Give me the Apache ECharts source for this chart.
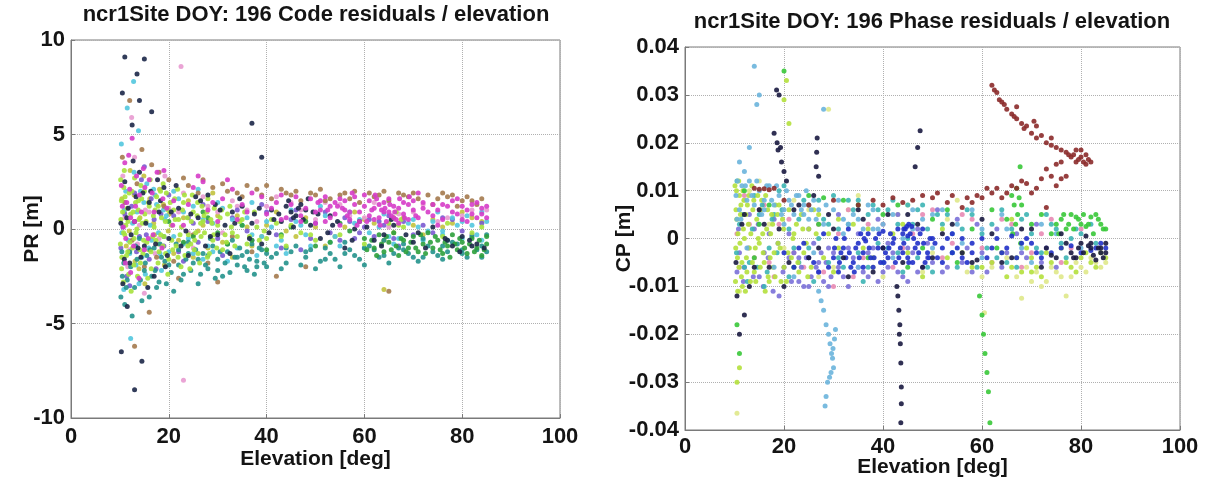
<!DOCTYPE html>
<html>
<head>
<meta charset="utf-8">
<script src="https://cdn.jsdelivr.net/npm/echarts@6/dist/echarts.min.js"></script>
<style>html,body{margin:0;padding:0;background:#fff}#c{width:1207px;height:483px}</style>
</head>
<body>
<div id="c"></div>
<script>
// ---- Tick labels / titles ----
const leftTitle = 'ncr1Site DOY: 196 Code residuals / elevation';
const rightTitle = 'ncr1Site DOY: 196 Phase residuals / elevation';
const xTicks = [0, 20, 40, 60, 80, 100];
const prTicks = [-10, -5, 0, 5, 10];
const cpTicks = [-0.04, -0.03, -0.02, -0.01, 0, 0.01, 0.02, 0.03, 0.04];

// ---- Code residuals (PR, m) : flat [elev, value, ...] per satellite colour ----
const prMagenta = [10.5,1.2,11,3.5,11.2,-0.5,12,2.1,12.5,4.8,13,0.4,14,1.8,15,-1.1,16,2.6,17,0.9,19,3.1,21,1.5,23,0.2,25,2.2,28,1.0,31,1.6,34,0.5,37,1.9,40,0.8,42,1.4,44,0.6,46,1.7,48,1.1,50,0.9,51,1.5,52,0.4,53,1.2,54,0.8,55,1.6,56,1.0,57,0.5,58,1.3,59,0.9,60,1.8,61,0.7,62,1.1,63,0.6,64,1.4,65,0.9,66,1.2,67,0.3,68,0.8,70,1.5,72,1.1,74,0.7,76,1.3,78,0.9,80,1.2,82,0.8,84,1.1,85,0.6,83,1.4,81,0.4,79,1.6,75,0.2,71,1.9,69,1.3,58.5,0.2,62.5,1.6,64.5,0.4,55.5,1.1,63.5,1.0,65.5,0.7,66.5,0.5];
const prMagentaB = [41,1.1,43,0.5,45,1.3,47,0.7,49,1.6,50,0.3,51,1.0,52,1.7,53,0.6,54,1.4,55,0.2,56,1.5,57,0.9,58,1.7,59,0.4,60,1.2,61,1.5,62,0.5,63,1.3,64,0.9,65,1.6,66,0.6,67,1.1,68,1.4,69,0.5,70,1.0,71,0.6,72,1.4,73,0.9,74,1.3,75,1.0,76,0.5,77,1.2,78,1.5,79,0.8,80,0.5,81,1.0,82,1.3,83,0.6,84,0.8,85,1.2,12.2,-2.3,13.2,1.2,14.8,3.2,16.8,-0.3,18.8,1.6,20.8,0.2,24,1.3,27,2.5,30,0.4,33,2.1,36,0.9];
const prMagentaC = [10.3,2.3,10.7,0.1,11.1,-1.8,11.4,1.4,11.8,3.9,12.2,0.6,12.8,-0.9,13.4,2.8,13.9,-2.6,14.4,0.9,15.1,2.2,15.8,-0.5,16.6,1.9,17.6,3.0,18.6,-1.0,19.6,1.1,26,2.8,29,1.4,32,2.6,35,1.3,39,1.7,43,1.8,47,0.4,60.5,0.4,61.5,1.0,62.2,1.8,63.2,0.2,64.2,1.1,65.2,1.3,66.2,0.9,67.2,1.6,68.2,0.6,69.2,1.7,70.5,0.7,56.5,0.7,57.5,1.9,54.5,1.2,52.5,1.0,50.5,1.4];
const prYellowGreen = [10.2,0.5,10.4,-1.5,10.8,2.2,11,-0.3,11.5,1.1,11.8,-2.4,12.2,0.8,12.6,-1.0,13,2.7,13.3,-0.2,13.8,1.5,14.2,-1.8,14.6,0.3,15,2.0,15.5,-0.7,16,1.2,16.4,-2.1,17,0.1,17.5,1.7,18,-1.2,18.5,0.6,19,-0.4,19.5,1.9,20,-1.6,20.5,0.2,21,1.0,21.5,-0.9,22,0.5,22.5,-2.0,23,1.4,24,-0.3,25,0.9,26,-1.3,27,0.4,28,1.6,29,-0.6,30,0.2,31,-1.1,32,0.8,33,-0.2,35,0.5,36,-0.8,38,0.1,40,-0.5,42,0.3,44,-0.9,47,-0.2,50,-0.6,55,-0.3,60,-0.8,66,0.6,67,0.2,76,-0.4,77,0.3,82,-0.2,84,0.1,25.5,-0.2,26.5,0.3,24.5,-0.8];
const prYellowGreenB = [10.1,-0.8,10.3,1.5,10.7,-2.8,10.9,3.1,11.2,0.2,11.6,-1.2,11.9,1.9,12.3,-3.3,12.7,0.9,12.9,-0.5,13.2,1.4,13.6,-2.5,13.9,0.5,14.3,2.3,14.7,-1.3,15.1,0.8,15.7,-2.6,16.2,2.6,16.7,-0.4,17.2,1.0,17.8,-1.8,18.3,2.0,18.8,-0.9,19.3,0.4,19.8,-2.4,20.3,1.4,20.8,-1.1,21.3,0.5,21.8,2.1,22.3,-0.3,22.8,1.0,23.3,-1.4,23.8,0.6,24.3,-2.1,24.8,1.8,25.3,-0.6,25.8,0.7,26.3,-1.8,26.8,1.2,27.3,-0.2,27.8,0.9,28.3,-1.3,28.8,0.3,29.3,1.1,29.8,-1.0,30.5,0.6,31.5,-0.3,32.5,1.2,33.5,-0.9,34.5,0.4,36.5,-0.4,37.5,0.9,39.5,-0.1,41,0.5,43,-0.4,65,0.3,66.5,0.9,67.5,0.5,68,0.1];
const prYellowGreenC = [10.15,2.6,10.35,-2.1,10.55,0.9,10.75,-0.2,11.05,1.7,11.35,-1.4,11.65,0.4,12.05,-0.7,12.45,2.0,12.85,-1.9,13.45,0.0,13.75,1.0,14.05,-1.1,14.45,1.6,14.85,-0.6,15.35,0.4,15.85,1.4,16.35,-1.2,16.85,0.7,17.35,-0.6,17.85,1.2,18.35,-0.3,18.85,2.4,19.35,-1.3,19.85,1.0,20.6,-0.6,21.2,1.6,21.9,-1.5,22.6,0.1,23.2,1.8,23.9,-0.9,24.6,0.4,25.2,-1.1,25.9,1.4,26.6,-0.4,27.2,0.7,27.9,-1.5,28.6,0.5,29.2,-0.3,30.8,1.0,31.8,-0.7,32.8,0.1,34,-0.4,35.5,0.9,38.5,-0.6,45,0.2,49,-0.3];
const prNavy = [10.5,7.2,11,9.1,12.5,5.5,13.5,8.2,14,6.8,15,9.0,16.5,6.2,10.3,-6.5,11.5,-4.1,13,-8.5,14.5,-7.0,11,2.5,12,-1.8,13,0.4,14,3.0,15,-0.9,16,1.4,17,-2.5,18,0.9,19,2.2,20,-0.5,22,1.1,24,-1.4,26,0.6,28,1.8,30,-0.3,33,0.9,35,1.2,37,0.3,39,-0.8,41,1.0,43,0.4,45,0.9,47,1.3,49,0.2,51,-0.5,53,0.7,56,-1.0,59,0.4,62,-0.6,66,0.2,70,-0.7,74,0.1,78,-0.9,80,-0.4,83,-0.8,37,5.6,39,3.8,46,0.7,48,1.0,44,1.2];
const prNavyB = [10.2,0.3,10.9,-1.6,11.7,1.1,12.7,3.6,13.7,-1.0,14.7,1.9,15.7,-3.1,17.7,2.6,19.7,-1.4,21.5,2.3,23.5,-0.1,25.5,1.7,27.5,-0.9,29.5,1.3,31.5,0.2,32.5,-1.3,34.5,1.6,36.5,-0.5,38.5,1.1,40.5,-0.2,42.5,0.8,44.5,1.5,45.5,0.1,46.5,1.1,47.5,0.5,48.5,1.6,50.5,0.8,52.5,-0.2,54.5,0.4,57.5,-0.6,60.5,0.1,63.5,-0.9,65.5,0.5,68.5,-0.3,72.5,-1.0,76.5,-0.5,79.5,-1.2,81.5,-0.6,84.5,-1.0];
const prNavyC = [10.6,-2.9,11.4,0.6,12.3,-0.3,13.3,1.7,14.3,-1.5,15.3,0.3,16.3,2.0,17.3,-0.8,18.3,1.5,19.3,-2.0,20.5,0.9,22.5,-0.9,24.5,0.8,26.5,1.5,28.5,-0.4,30.5,1.0,33.5,0.3,37.5,0.8,41.5,0.5,45.5,0.6,49.5,0.9,53.5,0.2,58,0.0,64,-0.3,71,-0.2,77,-0.6,82,-0.9];
const prTeal = [10.5,-2.5,11,-4.0,12,-1.2,13,-3.1,14,-0.5,15,-2.2,16,-3.6,17,-1.0,18,-2.8,19,-0.4,20,-1.9,21,-3.3,22,-1.1,23,-2.4,24,-0.7,25,-1.8,26,-2.9,27,-1.3,28,-2.1,29,-0.9,30,-1.6,31,-2.5,32,-1.2,33,-0.6,34,-1.9,35,-1.4,36,-2.2,37,-0.8,38,-1.7,39,-1.1,40,-2.0,42,-1.3,44,-1.8,46,-0.9,48,-1.5,50,-2.1,52,-1.0,54,-1.6,56,-0.7,58,-1.4,60,-1.9,62,-1.1,64,-0.6,66,-1.3,68,-0.8,70,-1.5,72,-0.5,74,-1.2,76,-1.6,78,-0.7,80,-1.1,82,-0.4,84,-0.9,85,-0.3];
const prTealB = [10.2,-3.6,10.8,-1.8,11.5,-2.7,12.5,-4.6,13.5,-1.6,14.5,-3.8,15.5,-1.4,16.5,-2.5,17.5,-3.1,18.5,-1.5,19.5,-2.9,20.5,-2.3,21.5,-0.8,22.5,-2.7,23.5,-1.6,24.5,-2.2,25.5,-1.1,26.5,-2.4,27.5,-1.9,28.5,-0.5,29.5,-2.6,30.5,-1.2,31.5,-1.8,32.5,-2.3,33.5,-1.5,34.5,-1.0,35.5,-2.0,36.5,-1.6,37.5,-2.4,38.5,-1.0,39.5,-1.8,41,-1.5,43,-2.1,45,-1.2,47,-1.9,49,-1.1,51,-1.7,53,-1.3,55,-2.0,57,-1.1,59,-1.6,61,-0.9,63,-1.5,65,-1.8,67,-1.0,69,-1.3,71,-1.7,73,-0.9,75,-1.4,77,-1.2,79,-0.8,81,-1.5,83,-1.1,85,-1.2];
const prTealC = [10.4,-1.2,11.3,-3.1,12.2,-2.0,13.2,-0.9,14.2,-2.7,15.2,-1.8,16.2,-1.1,17.2,-2.2,18.2,-0.8,19.2,-1.7,22,-1.9,24,-1.3,26,-1.6,28,-1.4,30,-2.2,32,-0.8,34,-1.5,36,-1.2,38,-2.0,40,-1.3,44,-1.0,48,-1.2,52,-1.6,56,-1.3,60,-1.0,64,-1.4,68,-1.1,72,-1.5,76,-0.9,80,-1.3,84,-1.5];
const prCyan = [10.3,4.5,11.5,6.4,12.8,7.8,13.8,5.2,10.8,-3.2,12.2,-5.8,13.5,0.9,14.5,-1.5,15.5,2.4,16.5,-0.6,17.5,1.3,18.5,-2.2,19.5,0.7,21,2.0,23,-0.8,25,1.2,27,-1.6,29,0.3,31,1.1,34,-1.0,36,0.6,38,-1.4,40,0.4,43,-0.6,45,1.0,48,-0.3,52,0.7,55,-0.9,58,0.3,61,-0.2,64,0.8,67,-0.5,70,0.5,73,-0.1,75,0.9,77,-0.6,79,0.2,81,0.7,83,-0.3,85,0.4,84,0.9];
const prCyanB = [10.4,-0.2,11.2,2.0,12,-1.3,12.9,3.0,13.9,-2.9,14.9,1.4,15.9,-1.0,16.9,2.1,17.9,-0.2,18.9,1.0,20,-1.2,22,1.6,24,-0.5,26,2.1,28,-0.9,30,1.4,32,-1.7,35,0.2,37,1.4,39,-0.4,41,0.1,44,-1.3,46,0.4,49,-0.9,51,1.2,54,-0.4,57,0.9,60,-1.0,63,0.1,66,-0.8,69,0.3,72,-0.6,74,0.4,76,-0.1,78,0.6,80,-0.5,82,0.2,84,-0.6];
const prCyanC = [10.9,1.0,11.7,-0.6,12.6,0.3,13.3,-1.9,14.2,2.0,15.2,-2.4,16.2,0.2,17.2,1.8,18.2,-1.3,19.2,0.5,21,-0.4,23,0.9,25,-1.3,27,0.5,29,-1.2,33,0.5,37,-0.3,42,-0.9,47,0.2,53,-0.7,59,0.5,65,-0.4,71,0.1,76,-0.3,80,0.4];
const prGreen = [60,-0.5,62,-1.0,63,-0.3,64,-1.2,65,-0.7,66,-0.2,67,-1.4,68,-0.6,69,-1.0,70,-0.4,71,-1.2,72,-0.8,73,-0.2,74,-1.0,75,-0.6,76,-1.3,77,-0.9,78,-0.3,79,-1.1,80,-0.7,81,-1.3,82,-0.5,83,-1.0,84,-1.4,85,-0.8,25,-0.4,28,0.6,32,-0.8,35,0.2,40,-1.1,45,0.1,50,-0.9,55,0.3];
const prGreenB = [60.5,-1.1,61.5,-0.6,62.5,-1.4,63.5,-0.8,64.5,-0.4,65.5,-1.1,66.5,-0.9,67.5,-0.5,68.5,-1.2,69.5,-0.7,70.5,-1.0,71.5,-0.3,72.5,-1.3,73.5,-0.7,74.5,-0.4,75.5,-1.1,76.5,-0.7,77.5,-1.5,78.5,-0.8,79.5,-0.5,80.5,-1.0,81.5,-0.8,82.5,-1.2,83.5,-0.6,84.5,-1.1,85,-0.4,20,0.4,23,-0.7,27,0.9,30,-0.2,37,-0.6,43,-0.3,48,0.4,53,-0.7,57,-0.1];
const prBrown = [10.5,3.8,12,6.8,13,-6.2,14.5,4.2,16,-4.4,18,3.0,20,2.6,22,-2.6,24,2.3,26,1.9,29,2.2,32,2.0,35,1.7,38,2.1,41,1.6,44,1.9,47,1.5,50,1.8,53,1.6,56,1.9,59,1.4,62,1.7,65,1.5,68,1.8,71,1.6,74,1.3,77,1.7,80,1.5,83,1.3,30,-2.8,42,-2.5,48,-2.0,65,-3.3];
const prBrownB = [11,1.4,12.5,-0.6,13.5,2.4,15,-2.0,16.5,3.4,17.5,-1.5,19,1.2,21,-1.7,23,2.7,25,-0.3,27,2.6,28,-1.8,31,2.4,33,-0.4,34,1.9,36,2.3,37,-1.2,39,1.8,40,2.3,43,2.1,45,1.8,46,2.0,49,1.9,51,2.1,52,1.5,55,1.8,57,1.6,58,2.0,61,1.9,63,1.8,64,2.0,67,1.9,69,1.7,70,1.9,73,1.8,75,1.6,76,1.9,78,1.8,79,1.2,81,1.7,82,1.5,84,1.6];
const prPurple = [10.2,-1.0,11,0.8,12,-3.0,13,1.9,14,-0.4,15,3.3,16,-1.6,17,0.5,19,-0.9,21,0.7,23,-1.7,25,0.3,27,1.3,30,-0.5,33,0.6,36,-0.1,39,1.3,42,-0.3,45,0.5,47,-1.1,50,0.3,53,-0.2,56,0.6,58,-0.5,60,0.1,63,0.4,67,-0.9,72,0.2,76,0.6,80,-0.1,84,0.3];
const prPurpleB = [10.6,0.1,11.4,-2.5,12.4,1.2,13.4,-1.2,14.4,2.6,15.4,-0.3,16.4,1.6,17.4,-2.1,18.4,0.8,20,1.8,22,-1.2,24,0.6,26,-0.7,28,0.4,31,-1.4,34,1.0,37,-0.6,40,0.9,43,-1.0,46,1.0,49,-0.5,52,0.9,55,-0.6,57,0.4,59,-0.2,61,0.5,62,-0.4,64,0.2,65,0.7,66,-0.5,68,0.4,70,-0.3,74,-0.2,78,0.5,82,-0.3];
const prPink = [10.6,2.8,11.6,-2.0,12.4,5.9,13.6,-0.8,15.2,1.0,17.2,-1.3,19.2,2.8,22,0.9,24,-0.2,27,1.7,30,0.9,33,1.5,36,1.0,40,1.2,45,1.4,50,0.5,55,1.3,60,0.6,65,0.1,70,0.9,75,0.4,80,0.7,85,1.0,22.5,8.6,23,-8.0];
const prPinkB = [11,0.6,12,-1.1,13,3.8,14,0.2,15,-3.4,16,0.9,18,-0.5,20,1.1,23,1.9,25,-1.0,28,1.2,31,-0.2,34,1.2,38,0.4,42,1.7,47,1.0,52,1.4,57,0.7,62,1.4,67,0.8,72,1.3,77,0.6,82,1.0];
const prOlive = [10.4,1.6,11.3,-0.9,12.1,3.1,13.1,-1.7,14.1,0.6,15.1,-2.9,16.1,1.6,17.1,-0.3,18.1,2.1,19.1,-1.9,20.1,0.8,22,-0.6,24,1.5,26,-0.1,28,-1.0,30,0.7,33,-1.5,36,0.1,39,-0.4,42,0.9,46,-0.4,50,0.1,54,-0.4,58,0.9,62,0.3,66,-0.2,70,0.2,74,0.5,78,0.3,82,0.6,64,-3.2];
const prOliveB = [10.9,0.9,11.9,-0.1,12.9,1.8,13.9,-2.1,14.9,2.8,15.9,-1.1,16.9,0.3,17.9,-0.8,18.9,1.3,19.9,-0.1,21,-1.3,23,0.6,25,-1.5,27,0.2,29,1.9,31,-0.7,34,0.7,37,-0.9,40,0.2,44,-0.1,48,0.6,52,-0.9,56,0.1,60,0.5,64,-0.6,68,0.6,72,-0.3,76,0.1,80,0.9,84,0.4];

// ---- Phase residuals (CP, m) ----
const cpMaroon = [62,0.032,62.5,0.031,63,0.0305,63.5,0.029,64,0.0285,64.5,0.028,65,0.027,66,0.026,66.5,0.0255,67,0.025,68,0.024,68.5,0.023,69,0.0235,70,0.022,71,0.021,72,0.0215,73,0.02,74,0.0195,75,0.019,76,0.0185,77,0.018,77.5,0.0175,78,0.017,78.5,0.0175,79,0.016,79.5,0.0165,80,0.017,80.5,0.016,81,0.0175,81.5,0.0165,82,0.016,81,0.0155,80,0.0185,79,0.0185,76,0.016,74,0.021,71,0.0235,70.5,0.0245,67,0.0275,75,0.0155,56,0.0065,58,0.0075,59,0.009,60,0.0085,62,0.0095,63,0.0105,65,0.0095,66,0.011,67,0.0105,68,0.012,69,0.0115,70,0.0095,72,0.0125,73,0.0145,74,0.013,75,0.011,76,0.0125,73,0.0065,40,0.007,42,0.0085,44,0.0075,46,0.008,48,0.009,50,0.0085,51,0.0095,53,0.0075,54,0.009,57,0.0085,14,0.0105,15,0.0103,16,0.0104,17,0.0102,18,0.0105];
const cpMaroonB = [20,0.008,25,0.007,30,0.008,35,0.007,38,0.008,61,0.0105,64,0.0085,71,0.0105,77,0.013];
const cpLightBlue = [28,-0.015,28.5,-0.018,29,-0.02,29.3,-0.022,29.6,-0.024,29.8,-0.025,30,-0.027,29.5,-0.028,29.2,-0.029,28.8,-0.03,28.5,-0.033,28.3,-0.035,27.5,-0.013,27,-0.011,30.2,-0.021,30.4,-0.019,29.9,-0.023,10.5,0.004,11,0.016,12,0.014,13,0.019,14,0.036,15,0.03,12.5,-0.002,16,0.006,18,-0.006,20,0.003,22,-0.008,24,0.005,26,-0.003,32,0.004,35,-0.006,38,0.002,42,-0.004,46,0.006,50,-0.002,55,0.003,60,-0.004,65,0.002,70,-0.005,75,0.001,80,-0.002,14.5,0.028,28,0.027];
const cpLightBlueB = [10.3,0.009,11,0.006,11.5,0.011,12.5,0.008,13,0.012,14,0.007,15,0.01,16,0.008,17,0.011,18,0.007,19,0.009,20,0.006,21,0.008,22,0.005,23,0.009,24,0.007,25,0.004,26,0.008,27,0.006,28,0.003,30,0.006,32,0.001,34,0.005,36,0.002,38,0.006,40,0.003,44,0.0,48,0.004,52,0.006,56,-0.001,60,0.002,64,0.005,68,-0.002,72,0.003];
const cpLightBlueC = [10.6,0.012,11.3,0.004,12.2,0.011,13.5,0.009,14.5,0.012,15.5,0.005,16.5,0.011,17.5,0.008,18.5,0.011,19.5,0.005,20.5,0.01,21.5,0.007,22.5,0.009,23.5,0.006,24.5,0.01,25.5,0.006,26.5,0.004,28.5,0.007,31,0.008,33,0.003,35,0.004,37,0.007,39,0.002,42,0.005,46,0.002,50,0.005,54,0.001,58,0.006];
const cpNavy = [18.5,0.031,19,0.03,18,0.022,18.6,0.02,19.3,0.019,19.5,0.016,20,0.014,20.5,0.012,18.8,0.0185,43,-0.012,43.2,-0.015,43.4,-0.018,43.5,-0.022,43.6,-0.026,43.7,-0.031,43.7,-0.0345,43.6,-0.0385,43.3,-0.02,42.8,-0.01,26,0.009,27,0.013,26.5,0.015,26.7,0.021,26.6,0.018,12,0.005,14,-0.006,16,0.003,20,-0.01,22,0.006,25,-0.004,30,0.002,33,-0.008,36,0.004,40,-0.002,45,0.005,48,-0.006,52,0.001,56,-0.003,60,0.004,64,-0.005,68,0.002,72,-0.006,76,0.001,78,-0.003,80,-0.001,82,-0.002,84,-0.003,85,-0.001,83,-0.0045,81,0.0005,79,-0.004,10.5,-0.012,11,-0.02,12,-0.016,47.5,0.0225,47,0.019,46.5,0.015,59,-0.0045,74,-0.0035];
const cpNavyB = [10.3,-0.005,11.5,0.003,13,-0.01,15,0.006,17,-0.006,19,0.002,21,-0.005,23,0.007,27,-0.002,29,0.005,32,-0.004,35,0.006,38,-0.007,41,0.005,44,-0.005,47,0.003,50,-0.004,54,0.003,58,-0.005,62,0.001,66,-0.004,70,0.002,73,-0.002,75,-0.004,77,-0.001,78.5,-0.004,79.5,-0.002,80.5,-0.003,81.5,-0.0015,82.5,-0.0035,83.5,-0.002,84.5,-0.004,85,-0.003,84,-0.002,82,-0.001];
const cpBlue = [20,-0.003,22,-0.006,24,-0.001,26,-0.005,28,0.001,30,-0.004,31,-0.007,32,-0.002,33,0.002,34,-0.005,35,-0.001,36,-0.003,37,0.001,38,-0.006,39,-0.002,40,0.0015,41,-0.004,42,-0.001,43,0.002,44,-0.003,45,0.0005,46,-0.005,47,-0.001,48,0.002,49,-0.003,50,0.0,52,-0.002,54,0.001,56,-0.004,58,-0.001,62,-0.002,66,0.0005,70,-0.001,74,-0.003,78,-0.0015,82,-0.0025,84,-0.001,44.5,0.002,45.5,0.001,36.5,-0.0005,32.5,-0.004,40.5,-0.003];
const cpBlueB = [29,-0.006,30.5,0.0,31.5,-0.003,33.5,-0.006,34.5,-0.002,35.5,0.001,36,-0.006,37.5,-0.004,38.5,0.0,39.5,-0.005,40,-0.002,41.5,0.001,42.5,-0.005,43.5,-0.002,44,0.001,45,-0.004,46.5,-0.002,47.5,0.001,48.5,-0.005,49.5,0.0,51,-0.004,53,0.0,55,-0.002,57,-0.005,60,0.0,64,-0.003,68,-0.001,72,-0.004,76,-0.002,80,-0.003,83,-0.002,85,-0.002,25,-0.004,27,-0.007,23,-0.002,45.2,0.003,44.8,0.0025];
const cpBlueC = [30.2,-0.002,31.2,-0.005,32.2,0.0,33.2,-0.003,34.2,-0.007,35.2,-0.004,36.2,0.0,37.2,-0.002,38.2,-0.004,39.2,0.001,40.2,-0.005,41.2,-0.002,42.2,0.0,43.2,-0.004,44.2,-0.001,45.2,-0.005,46.2,0.0,47.2,-0.003,48.2,-0.001,49.2,-0.004,50.5,-0.001,52,-0.005,54,-0.003,56,0.0,58,-0.003,61,-0.004,63,0.0,65,-0.002,67,-0.004,69,0.0,71,-0.003,45.8,0.0025,44.2,0.002];
const cpYellowGreen = [10.3,0.006,10.6,-0.004,11,0.009,11.4,-0.008,11.8,0.002,12.2,-0.011,12.6,0.007,13,-0.002,13.5,0.011,14,-0.007,14.5,0.004,15,-0.001,15.5,0.008,16,-0.005,16.5,0.002,17,-0.009,17.5,0.005,18,-0.003,19,0.007,20,-0.006,22,0.001,24,-0.003,26,0.006,30,-0.007,34,0.003,38,-0.004,42,0.001,48,-0.008,52,0.002,58,-0.006,64,-0.003,66,0.004,68,-0.007,70,-0.004,72,-0.008,74,-0.005,76,-0.002,78,-0.006,80,-0.004,82,-0.005,84,-0.003,10.5,-0.03,11,-0.027,20.5,0.033,20,0.029,21,0.024];
const cpYellowGreenB = [10.2,-0.009,10.4,0.01,10.7,0.001,10.9,-0.006,11.2,0.005,11.6,-0.01,11.9,0.008,12.4,-0.004,12.8,0.003,13.2,-0.009,13.7,0.006,14.2,-0.002,14.7,0.009,15.2,-0.006,15.7,0.001,16.2,-0.011,16.7,0.006,17.2,-0.004,17.7,0.003,18.2,-0.008,18.7,0.005,19.2,-0.002,19.7,0.004,20.5,-0.009,21,0.006,21.5,-0.004,22.5,0.003,23,-0.007,23.5,0.005,24.5,-0.001,25,0.002,25.5,-0.006,27,0.005,28,-0.004,29,0.001,31,0.004,36,-0.002,44,0.003,56,-0.003,62,-0.005,66,-0.006,69,-0.002,71,-0.006,73,-0.003,77,-0.005,79,-0.007,81,-0.003,83,-0.006,85,-0.004];
const cpYellowGreenC = [10.1,0.011,10.25,-0.002,10.45,0.004,10.65,-0.011,10.85,0.012,11.1,-0.001,11.3,0.007,11.5,-0.005,11.7,0.01,12,0.0,12.3,0.005,12.5,-0.007,12.9,0.009,13.3,0.001,13.6,-0.005,13.9,0.008,14.3,-0.009,14.8,0.0,15.3,0.006,15.8,-0.003,16.3,0.009,16.8,-0.008,17.3,0.001,17.8,-0.006,18.3,0.007,18.8,-0.001,19.4,-0.009,19.9,0.002,20.8,-0.003,21.8,0.0,22.8,-0.005,23.8,0.002,24.8,-0.008,26.5,0.001,31,-0.002,37,0.002,45,-0.003,53,-0.004,60,-0.006,65,-0.008,67,-0.004,70,-0.007];
const cpGreen = [66,0.009,66.5,0.007,67,0.0105,67.2,0.005,66.8,0.003,67.5,0.0085,66.2,0.001,67.8,-0.001,59.5,-0.012,60,-0.016,60.3,-0.02,60.6,-0.024,61,-0.028,61.3,-0.032,61.6,-0.0385,76,0.004,78,0.005,80,0.003,82,0.0045,84,0.003,85,0.002,77,0.002,79,0.0045,81,0.0025,83,0.005,10.5,-0.018,11,-0.024,15,0.003,25,0.009,28,0.0085,35,0.007,40,0.005,45,-0.006,50,0.004,55,-0.005,62,0.006,20,0.035,67.7,0.015];
const cpGreenB = [75,0.003,75.5,0.001,76.5,0.005,77.5,0.003,78.5,0.002,79.5,0.004,80.5,0.005,81.5,0.003,82.5,0.001,83.5,0.004,84.5,0.002,12,0.01,14,-0.004,17,0.007,22,-0.006,27,0.003,32,0.008,37,-0.004,43,0.007,48,-0.002,53,0.006,58,0.002,63,-0.002,65,0.004,68,0.007,70,0.003,72,0.005,74,0.001];
const cpTeal = [10.5,0.012,12,-0.006,14,0.009,16,-0.01,18,0.005,20,0.011,22,-0.002,24,0.008,26,-0.009,28,0.004,30,0.009,32,-0.006,34,0.006,36,-0.009,38,0.007,40,-0.005,42,0.008,44,-0.007,46,0.003,48,0.007,50,-0.007,53,0.005,56,0.002,59,-0.006,62,0.003,65,-0.005,68,0.004,71,-0.002,74,0.003,77,-0.004,80,0.001,83,-0.001];
const cpTealB = [11,0.003,13,-0.005,15,0.005,17,-0.002,19,0.01,21,0.002,23,-0.005,25,0.007,27,0.0,29,-0.005,31,0.002,33,0.008,35,-0.003,37,0.005,39,-0.001,41,0.006,43,-0.003,45,0.007,47,-0.004,49,0.002,51,0.005,54,-0.003,57,0.006,60,0.001,63,-0.004,66,0.002,69,0.005,72,-0.003,75,0.002,78,0.0];
const cpTealC = [10.4,-0.003,11.6,0.005,12.6,-0.009,13.6,0.002,14.6,-0.006,15.6,0.007,16.6,-0.007,17.6,0.004,18.6,-0.003,19.6,0.006,21,-0.008,23,0.004,25,-0.002,27,0.008,29,0.003,31,-0.004,33,0.003,35,0.008,37,-0.006,39,0.006,41,-0.002,43,0.003,45,0.0,47,0.006,49,-0.006,52,0.003,55,-0.006,58,0.005,61,-0.002,64,0.006,67,-0.006,70,0.001,73,0.005,76,-0.001,79,0.002,82,0.003];
const cpPurple = [11,-0.003,13,0.005,15,-0.008,17,0.001,19,-0.012,21,-0.004,23,-0.009,25,0.002,27,-0.007,29,-0.002,31,0.005,33,-0.01,35,0.001,37,-0.008,39,0.004,41,-0.006,43,0.005,45,-0.009,47,0.002,49,-0.004,51,0.006,53,-0.006,55,0.004,57,-0.002,59,0.003,61,-0.007,63,0.002,65,-0.003,67,0.001,69,-0.004,71,0.003,73,-0.002,75,-0.006];
const cpPurpleB = [20,-0.006,21.5,-0.009,22,-0.003,23.5,-0.006,24,-0.01,24.5,-0.004,25.5,-0.008,26,-0.001,26.5,-0.006,27.5,-0.003,28,-0.009,28.5,-0.005,29.5,-0.008,30,-0.003,32,-0.008,34,-0.004,36,-0.007,38,-0.002,40,-0.007,42,-0.003,44,-0.008,46,-0.003,48,-0.006,50,-0.005,54,-0.003,58,-0.007,12,-0.006,14,0.002,16,-0.003,18,0.004,10.5,-0.007];
const cpPurpleC = [10.8,0.002,11.8,-0.009,12.8,-0.002,13.8,-0.008,14.8,0.003,15.8,-0.01,16.8,-0.004,17.8,-0.011,18.8,-0.001,19.8,-0.007,21,0.001,23,-0.004,25,-0.01,27,-0.005,29,-0.01,31,-0.006,33,-0.002,35,-0.006,37,-0.003,39,-0.009,41,-0.001,43,-0.007,45,-0.002,47,-0.007,49,-0.001,52,-0.007,56,-0.005,60,-0.003,64,-0.006,68,-0.003,72,-0.005];
const cpPink = [10.5,0.001,12,0.009,14,-0.004,16,0.007,18,-0.008,21,0.004,24,-0.006,27,0.003,30,-0.01,33,0.006,36,-0.004,40,0.003,44,-0.002,48,0.005,52,-0.004,56,0.005,60,-0.002,64,0.004,68,-0.006,72,0.001,76,-0.005,80,0.002];
const cpPinkB = [11,-0.006,13,0.003,15,0.006,17,-0.005,19,0.003,22,-0.003,25,0.007,28,-0.007,31,0.001,34,-0.008,37,0.003,42,-0.006,46,0.001,50,0.006,54,-0.001,58,0.004,62,-0.005,66,0.003,70,-0.003,74,0.004,78,-0.002];
const cpPaleYellow = [12,0.008,15,0.012,20,-0.002,25,0.006,30,-0.006,35,0.009,40,-0.008,45,0.007,50,-0.003,55,0.008,60,-0.008,65,-0.004,70,-0.009,72,-0.01,75,-0.007,78,-0.008,80,-0.006,82,-0.004,84,-0.006,85,-0.005,77,-0.012,68,-0.0125,60.5,-0.0155,10.5,-0.0365,29,0.027];
const cpPaleYellowB = [11,-0.011,13,0.01,17,0.003,22,0.008,27,-0.008,33,0.006,38,-0.006,43,0.005,48,-0.007,53,0.004,57,-0.007,62,-0.006,67,-0.008,69,-0.006,71,-0.007,73,-0.009,74,-0.006,76,-0.008,79,-0.005,81,-0.007,83,-0.005];

// ---- build ----
function pairs(flat){ const out=[]; for(let i=0;i<flat.length;i+=2) out.push([flat[i],flat[i+1]]); return out; }
const prSets = [
  [prOlive.concat(prOliveB),'#c2c23e'],[prPink.concat(prPinkB),'#e89ad0'],[prPurple.concat(prPurpleB),'#7a5ad0'],
  [prCyan.concat(prCyanB,prCyanC),'#52c7de'],[prBrown.concat(prBrownB),'#a47a4e'],[prTeal.concat(prTealB,prTealC),'#23928c'],
  [prGreen.concat(prGreenB),'#2ea03c'],[prYellowGreen.concat(prYellowGreenB,prYellowGreenC),'#a6e23c'],
  [prNavy.concat(prNavyB,prNavyC),'#1c2748'],[prMagenta.concat(prMagentaB,prMagentaC),'#d63cc8']
];
const cpSets = [
  [cpPaleYellow.concat(cpPaleYellowB),'#dfe88a'],[cpPink.concat(cpPinkB),'#e88ab4'],[cpPurple.concat(cpPurpleB,cpPurpleC),'#7a70d8'],
  [cpTeal.concat(cpTealB,cpTealC),'#3cb4b4'],[cpYellowGreen.concat(cpYellowGreenB,cpYellowGreenC),'#b4e03c'],
  [cpLightBlue.concat(cpLightBlueB,cpLightBlueC),'#6ab4dc'],[cpGreen.concat(cpGreenB),'#38c838'],
  [cpBlue.concat(cpBlueB,cpBlueC),'#2030c8'],[cpNavy.concat(cpNavyB),'#1a1a40'],[cpMaroon.concat(cpMaroonB),'#8b2a2a']
];
const FONT = '"Liberation Sans", Arial, sans-serif';
const TXT = '#141414';
function fmt(v){ return String(+v.toFixed(2)); }
function xAxis(gi, margin, gap){
  return { type:'value', gridIndex:gi, min:xTicks[0], max:xTicks[xTicks.length-1], interval:20,
    name:'Elevation [deg]', nameLocation:'middle', nameGap:gap, nameMoveOverlap:false,
    nameTextStyle:{fontFamily:FONT, fontWeight:'bold', fontSize:21, color:TXT},
    axisLine:{onZero:false, lineStyle:{color:'#7a7a7a', width:1}},
    axisTick:{inside:true, length:4, lineStyle:{color:'#7a7a7a'}},
    axisLabel:{fontFamily:FONT, fontWeight:'bold', fontSize:22, color:TXT, margin:margin, formatter:fmt},
    splitLine:{show:true, lineStyle:{type:'dotted', color:'#b0b0b0', width:1}} };
}
function yAxis(gi, ticks, iv, name, gap){
  return { type:'value', gridIndex:gi, min:ticks[0], max:ticks[ticks.length-1], interval:iv,
    name:name, nameLocation:'middle', nameGap:gap, nameMoveOverlap:false,
    nameTextStyle:{fontFamily:FONT, fontWeight:'bold', fontSize:21, color:TXT},
    axisLine:{show:true, onZero:false, lineStyle:{color:'#7a7a7a', width:1}},
    axisTick:{show:true, inside:true, length:4, lineStyle:{color:'#7a7a7a'}},
    axisLabel:{fontFamily:FONT, fontWeight:'bold', fontSize:22, color:TXT, margin:6, formatter:fmt},
    splitLine:{show:true, lineStyle:{type:'dotted', color:'#b0b0b0', width:1}} };
}
const series = [];
prSets.forEach(([d,c])=>series.push({type:'scatter', xAxisIndex:0, yAxisIndex:0, data:pairs(d), symbolSize:5, itemStyle:{color:c, opacity:0.9}, silent:true}));
cpSets.forEach(([d,c])=>series.push({type:'scatter', xAxisIndex:1, yAxisIndex:1, data:pairs(d), symbolSize:5, itemStyle:{color:c, opacity:0.9}, silent:true}));

const chart = echarts.init(document.getElementById('c'), null, {renderer:'canvas'});
chart.setOption({
  animation:false,
  backgroundColor:'#ffffff',
  grid:[
    {left:71, top:40, width:489, height:378, show:true, borderColor:'#7a7a7a', borderWidth:1, backgroundColor:'#fff', containLabel:false},
    {left:685, top:47, width:495, height:383, show:true, borderColor:'#7a7a7a', borderWidth:1, backgroundColor:'#fff', containLabel:false}
  ],
  xAxis:[ xAxis(0, 8, 31), xAxis(1, 6, 27) ],
  yAxis:[ yAxis(0, prTicks, 5, 'PR [m]', 28), yAxis(1, cpTicks, 0.01, 'CP [m]', 50) ],
  graphic:[
    {type:'text', x:316, y:15, style:{text:leftTitle, textAlign:'center', textVerticalAlign:'middle', align:'center', verticalAlign:'middle', font:'bold 22px "Liberation Sans", Arial, sans-serif', fill:TXT}},
    {type:'text', x:932, y:22, style:{text:rightTitle, textAlign:'center', textVerticalAlign:'middle', align:'center', verticalAlign:'middle', font:'bold 22px "Liberation Sans", Arial, sans-serif', fill:TXT}}
  ],
  series:series
});
</script>
</body>
</html>
